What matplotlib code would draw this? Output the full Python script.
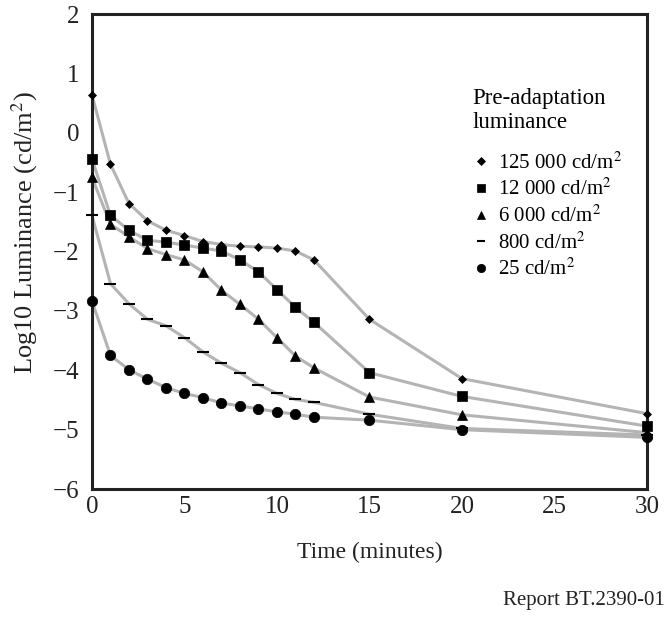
import matplotlib
matplotlib.use("Agg")
import matplotlib.pyplot as plt
from matplotlib.lines import Line2D

plt.rcParams['font.family'] = ['Liberation Serif', 'DejaVu Serif']
plt.rcParams['mathtext.fontset'] = 'stix'
plt.rcParams['axes.unicode_minus'] = True

# data
t = [0, 1, 2, 3, 4, 5, 6, 7, 8, 9, 10, 11, 12, 15, 20, 30]
lum_125000 = [0.64, -0.53, -1.19, -1.48, -1.64, -1.73, -1.83, -1.88, -1.91, -1.92,
              -1.94, -1.99, -2.14, -3.14, -4.14, -4.73]
lum_12000 = [-0.44, -1.39, -1.64, -1.81, -1.84, -1.89, -1.94, -1.99, -2.14, -2.34,
             -2.64, -2.94, -3.19, -4.04, -4.44, -4.94]
lum_6000 = [-0.75, -1.54, -1.75, -1.95, -2.05, -2.14, -2.34, -2.65, -2.89, -3.14,
            -3.45, -3.76, -3.96, -4.45, -4.75, -5.05]
lum_800 = [-1.39, -2.54, -2.88, -3.14, -3.25, -3.45, -3.69, -3.88, -4.04, -4.24,
           -4.39, -4.49, -4.54, -4.74, -4.98, -5.09]
lum_25 = [-2.83, -3.75, -3.99, -4.15, -4.29, -4.39, -4.46, -4.55, -4.60, -4.65,
          -4.70, -4.74, -4.79, -4.84, -5.00, -5.13]

series = [lum_125000, lum_12000, lum_6000, lum_800, lum_25]
labels = ["125 000 cd/m$^2$", "12 000 cd/m$^2$", "6 000 cd/m$^2$",
          "800 cd/m$^2$", "25 cd/m$^2$"]
markers = ['D', 's', '^', '_', 'o']
msizes = [4.5, 7.5, 7, 8, 7.5]

fig = plt.figure(figsize=(6.69, 6.19), dpi=100)
ax = fig.add_axes([0.1375, 0.21, 0.8295, 0.767])

for vals, m, ms in zip(series, markers, msizes):
    ax.plot(t, vals, color='#b4b4b4', lw=2.2, zorder=2)
    ax.plot(t, vals, linestyle='none', marker=m, ms=ms, color='black',
            mew=1.5 if m == '_' else 0.5, zorder=3, clip_on=False)

ax.set_xlim(0, 30)
ax.set_ylim(-6, 2)
ax.set_xticks(range(0, 31, 5))
ax.set_yticks(range(-6, 3))
ax.tick_params(length=0, labelsize=18, colors='#222222')
ax.tick_params(axis='y', pad=9)
ax.tick_params(axis='x', pad=5)
for s in ax.spines.values():
    s.set_linewidth(2.2)
    s.set_color('#222222')

ax.set_xlabel("Time (minutes)", fontsize=17, labelpad=17, color='#222222')
ax.set_ylabel("Log10 Luminance (cd/m$^2$)", fontsize=19, labelpad=8, color='#222222')
ax.yaxis.set_label_coords(-0.093, 0.54)

handles = [Line2D([], [], linestyle='none', marker=m, ms=ms * 0.8, color='black',
                  mew=1.5 if m == '_' else 0.5)
           for m, ms in zip(markers, msizes)]
leg = ax.legend(handles, labels, title="Pre-adaptation\nluminance",
                loc='upper left', bbox_to_anchor=(0.652, 0.885), frameon=False,
                fontsize=15, title_fontsize=16.5, handlelength=0.8,
                handletextpad=0.4, labelspacing=0.25, alignment='left')
leg._legend_box.sep = 14

fig.text(0.993, 0.015, "Report BT.2390-01", ha='right', va='bottom',
         fontsize=15, color='#222222')

fig.savefig("out.png", dpi=100)
